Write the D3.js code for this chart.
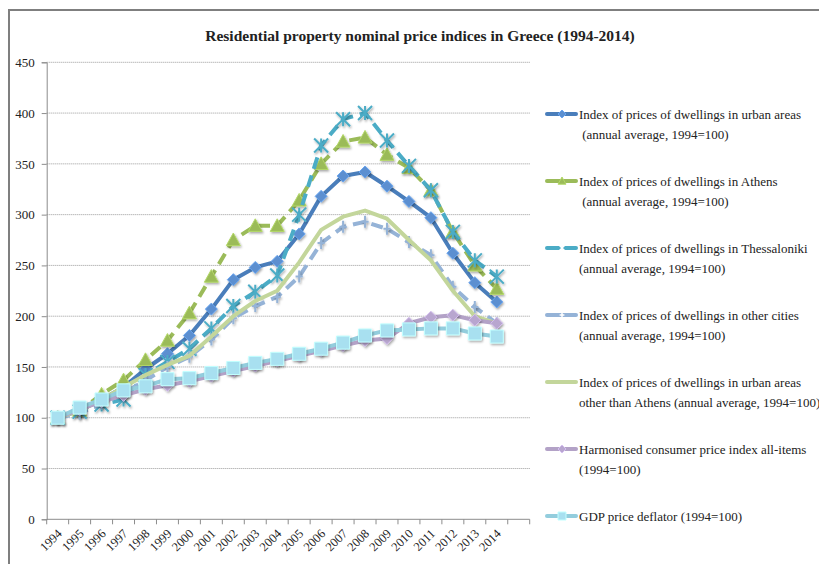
<!DOCTYPE html>
<html>
<head>
<meta charset="utf-8">
<script src="https://cdn.jsdelivr.net/npm/d3@7"></script>
<style>
  body { margin: 0; background: #fff; }
  text { font-family: "Liberation Serif", "DejaVu Serif", serif; fill: #222; }
</style>
</head>
<body>
<div id="chart"></div>
<script>
const years = ['1994','1995','1996','1997','1998','1999','2000','2001','2002','2003','2004',
  '2005','2006','2007','2008','2009','2010','2011','2012','2013','2014'];
const yTicks = [0, 50, 100, 150, 200, 250, 300, 350, 400, 450];

const urbanAreas = [100,107,118,130,148,163,181,207,236,248,254,281,318,338,342,328,313,297,262,233,214];
const athens = [100,107,123,137,157,176,203,239,275,289,289,314,350,372,376,359,346,324,283,250,227];
const thessaloniki = [100,106,113,118,142,155,168,188,210,224,240,300,368,394,400,373,348,324,283,255,239];
const otherCities = [100,104,114,124,137,150,160,177,198,210,219,239,272,288,293,286,273,260,229,209,193];
const urbanExAthens = [100,107,118,130,142,152,161,180,200,215,225,253,285,298,304,296,275,255,225,200,193];
const hicp = [100,108,116,122,128,132,136,141,146,151,156,161,166,171,176,178,193,199,201,196,193];
const gdpDeflator = [100,110,118,127,131,138,139,144,149,154,158,163,168,174,181,186,187,188,188,183,180];

const seriesNames = [
  ['Index of prices of dwellings in urban areas', ' (annual average, 1994=100)'],
  ['Index of prices of dwellings in Athens', ' (annual average, 1994=100)'],
  ['Index of prices of dwellings in Thessaloniki', '(annual average, 1994=100)'],
  ['Index of prices of dwellings in other cities', '(annual average, 1994=100)'],
  ['Index of prices of dwellings in urban areas', 'other than Athens (annual average, 1994=100)'],
  ['Harmonised consumer price index all-items', '(1994=100)'],
  ['GDP price deflator (1994=100)']
];

const series = [
  { values: urbanAreas, color: '#4a7ebb', dash: null, marker: 'diamond', mfill: '#5b8fd0' },
  { values: athens, color: '#9bbb59', dash: '12,7', marker: 'triangle', mfill: '#9bbb59' },
  { values: thessaloniki, color: '#4bacc6', dash: '12,7', marker: 'star', mfill: '#4bacc6' },
  { values: otherCities, color: '#95b3d7', dash: '12,7', marker: 'plus', mfill: '#95b3d7' },
  { values: urbanExAthens, color: '#c3d69b', dash: null, marker: null, mfill: null },
  { values: hicp, color: '#b3a2c7', dash: null, marker: 'diamond', mfill: '#b8a6cf' },
  { values: gdpDeflator, color: '#93cddd', dash: null, marker: 'square', mfill: '#a8e0f0' }
];

const width = 819, height = 564;
const svg = d3.select('#chart').append('svg')
  .attr('width', width)
  .attr('height', height);

// drop shadow for markers
const defs = svg.append('defs');
const f = defs.append('filter').attr('id', 'shadow').attr('x', '-50%').attr('y', '-50%').attr('width', '200%').attr('height', '200%');
f.append('feDropShadow').attr('dx', 1).attr('dy', 1.5).attr('stdDeviation', 1).attr('flood-color', '#000').attr('flood-opacity', 0.35);

// outer frame
svg.append('path')
  .attr('d', `M9,${height} V10 H${width}`)
  .attr('fill', 'none')
  .attr('stroke', '#7f7f7f')
  .attr('stroke-width', 2);

svg.append('text')
  .attr('x', 420)
  .attr('y', 41)
  .attr('text-anchor', 'middle')
  .style('font-size', '15.5px')
  .style('font-weight', 'bold')
  .text('Residential property nominal price indices in Greece (1994-2014)');

const plot = { left: 46.7, right: 529.7, top: 62.3, bottom: 519.3 };

// one empty slot after 2014
const slots = years.concat(['']);
const x = d3.scaleBand().domain(slots).range([plot.left, plot.right]);
const y = d3.scaleLinear().domain([0, 450]).range([plot.bottom, plot.top]);
const cx = d => x(d) + x.bandwidth() / 2;

// gridlines
svg.append('g')
  .selectAll('line')
  .data(yTicks.slice(1))
  .join('line')
  .attr('x1', plot.left)
  .attr('x2', plot.right)
  .attr('y1', d => y(d))
  .attr('y2', d => y(d))
  .attr('stroke', '#9a9a9a')
  .attr('stroke-width', 1)
  .attr('stroke-dasharray', '1,1');

// y axis
const yAxis = svg.append('g')
  .attr('transform', `translate(${plot.left},0)`)
  .call(d3.axisLeft(y).tickValues(yTicks).tickSize(5).tickPadding(7));
yAxis.select('.domain').attr('stroke', '#8c8c8c');
yAxis.selectAll('.tick line').attr('stroke', '#8c8c8c');
yAxis.selectAll('text').style('font-size', '13px').attr('fill', '#222');

// x axis: ticks on category boundaries
const xg = svg.append('g').attr('transform', `translate(0,${plot.bottom})`);
xg.append('line')
  .attr('x1', plot.left).attr('x2', plot.right)
  .attr('stroke', '#8c8c8c');
xg.selectAll('.xtick')
  .data(slots.concat(['end']))
  .join('line')
  .attr('class', 'xtick')
  .attr('x1', d => d === 'end' ? plot.right : x(d))
  .attr('x2', d => d === 'end' ? plot.right : x(d))
  .attr('y1', 0)
  .attr('y2', 5)
  .attr('stroke', '#8c8c8c');
xg.selectAll('.xlabel')
  .data(years)
  .join('text')
  .attr('class', 'xlabel')
  .attr('text-anchor', 'end')
  .attr('transform', d => `translate(${cx(d) + 5},${15}) rotate(-45)`)
  .style('font-size', '12.5px')
  .text(d => d);

function markerPath(type, s) {
  if (type === 'diamond') return `M0,${-s}L${s},0L0,${s}L${-s},0Z`;
  if (type === 'triangle') return `M0,${-s}L${s},${s*0.8}L${-s},${s*0.8}Z`;
  if (type === 'square') return `M${-s},${-s}H${s}V${s}H${-s}Z`;
  if (type === 'star') return `M${-s},${-s}L${s},${s}M${s},${-s}L${-s},${s}M0,${-s}V${s}`;
  if (type === 'plus') return `M0,${-s}V${s}M${-s*0.6},0H${s*0.6}`;
  return '';
}

const line = d3.line()
  .x((d, i) => cx(years[i]))
  .y(d => y(d));

series.forEach((s, k) => {
  const g = svg.append('g');
  g.append('path')
    .attr('d', line(s.values))
    .attr('fill', 'none')
    .attr('stroke', s.color)
    .attr('stroke-width', 4)
    .attr('stroke-linejoin', 'round')
    .attr('stroke-dasharray', s.dash);
  if (s.marker) {
    const size = s.marker === 'square' ? 6.5 : s.marker === 'triangle' ? 7 : s.marker === 'star' ? 7 : 6;
    const stroked = s.marker === 'star' || s.marker === 'plus';
    g.selectAll('.m')
      .data(s.values)
      .join('path')
      .attr('class', 'm')
      .attr('transform', (d, i) => `translate(${cx(years[i])},${y(d)})`)
      .attr('d', markerPath(s.marker, size))
      .attr('fill', stroked ? 'none' : s.mfill)
      .attr('stroke', stroked ? s.mfill : d3.color(s.mfill).brighter(0.4))
      .attr('stroke-width', stroked ? 2 : 1)
      .attr('filter', 'url(#shadow)');
  }
});

// legend
const legend = svg.append('g').attr('transform', 'translate(547,0)');
series.forEach((s, k) => {
  const ry = 114 + k * 67;
  const row = legend.append('g').attr('transform', `translate(0,${ry})`);
  row.append('line')
    .attr('x1', 0).attr('x2', 29)
    .attr('stroke', s.color)
    .attr('stroke-width', 4)
    .attr('stroke-linecap', 'round');
  if (s.marker) {
    const stroked = s.marker === 'star' || s.marker === 'plus';
    row.append('path')
      .attr('transform', 'translate(15,0)')
      .attr('d', markerPath(s.marker, 4))
      .attr('fill', stroked ? 'none' : s.mfill)
      .attr('stroke', stroked ? '#fff' : d3.color(s.mfill).brighter(0.4))
      .attr('stroke-width', stroked ? 1.5 : 1);
  }
  seriesNames[k].forEach((t, j) => {
    row.append('text')
      .attr('x', 32)
      .attr('y', 5 + j * 20)
      .style('font-size', '13px')
      .style('white-space', 'pre')
      .attr('xml:space', 'preserve')
      .text(t);
  });
});
</script>
</body>
</html>
